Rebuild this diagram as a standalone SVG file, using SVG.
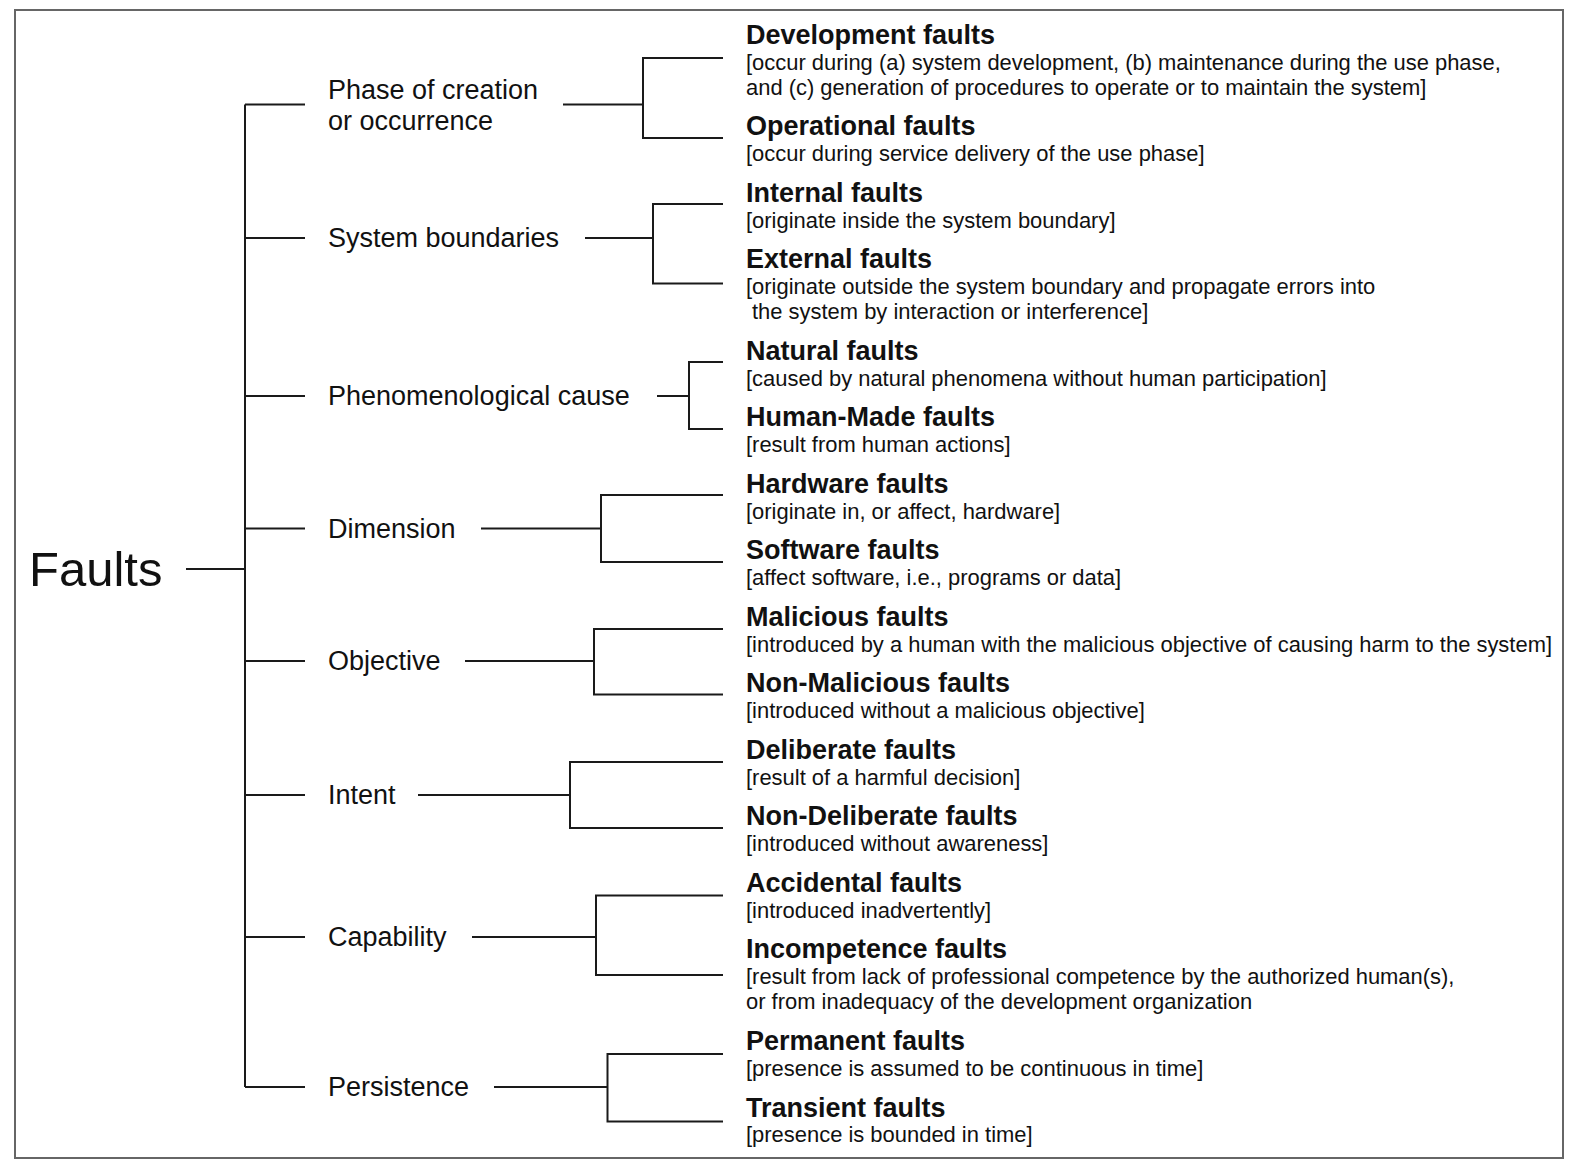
<svg xmlns="http://www.w3.org/2000/svg" width="1580" height="1173" viewBox="0 0 1580 1173">
  <style>
    .frame { fill: #ffffff; stroke: #666666; stroke-width: 2; }
    .link { fill: none; stroke: #1a1a1a; stroke-width: 2; }
    .root { font-family: "Liberation Sans", Arial, sans-serif; font-size: 49px; fill: #111111; }
    .cat { font-family: "Liberation Sans", Arial, sans-serif; font-size: 27px; fill: #111111; }
    .title { font-family: "Liberation Sans", Arial, sans-serif; font-size: 27px; font-weight: bold; fill: #111111; }
    .desc { font-family: "Liberation Sans", Arial, sans-serif; font-size: 21.95px; fill: #111111; }
  </style>

  <rect width="1580" height="1173" fill="#ffffff"/>
  <rect class="frame" x="15" y="10" width="1548" height="1148"/>

  <!-- tree connectors -->
  <g id="connectors">
    <!-- root to spine -->
    <path class="link" d="M186 569 H245"/>
    <path class="link" d="M245 104.5 V1087"/>
    <!-- spine to categories -->
    <path class="link" d="M245 104.5 H305 M245 238 H305 M245 396 H305 M245 528.5 H305 M245 661 H305 M245 795 H305 M245 937 H305 M245 1087 H305"/>
    <!-- Phase of creation or occurrence -->
    <path class="link" d="M563 104.5 H643 M723 58 H643 V138 H723"/>
    <!-- System boundaries -->
    <path class="link" d="M585 238 H653 M723 204 H653 V283.5 H723"/>
    <!-- Phenomenological cause -->
    <path class="link" d="M657 396 H689 M723 362 H689 V429 H723"/>
    <!-- Dimension -->
    <path class="link" d="M481 528.5 H601 M723 495 H601 V562 H723"/>
    <!-- Objective -->
    <path class="link" d="M465 661 H594 M723 629 H594 V694.5 H723"/>
    <!-- Intent -->
    <path class="link" d="M418 795 H570 M723 762 H570 V828 H723"/>
    <!-- Capability -->
    <path class="link" d="M472 937 H596 M723 895.5 H596 V975 H723"/>
    <!-- Persistence -->
    <path class="link" d="M494 1087 H607.5 M723 1054 H607.5 V1121.5 H723"/>
  </g>

  <!-- root -->
  <g id="faults">
    <text class="root" x="29" y="586">Faults</text>
  </g>

  <!-- categories -->
  <g id="cat-phase">
    <text class="cat" x="328" y="99">Phase of creation</text>
    <text class="cat" x="328" y="129.5">or occurrence</text>
  </g>
  <g id="cat-boundaries"><text class="cat" x="328" y="247">System boundaries</text></g>
  <g id="cat-cause"><text class="cat" x="328" y="405">Phenomenological cause</text></g>
  <g id="cat-dimension"><text class="cat" x="328" y="537.5">Dimension</text></g>
  <g id="cat-objective"><text class="cat" x="328" y="670">Objective</text></g>
  <g id="cat-intent"><text class="cat" x="328" y="804">Intent</text></g>
  <g id="cat-capability"><text class="cat" x="328" y="946">Capability</text></g>
  <g id="cat-persistence"><text class="cat" x="328" y="1096">Persistence</text></g>

  <!-- leaf classes -->
  <g id="leaf-development">
    <text class="title" x="746" y="44">Development faults</text>
    <text class="desc" x="746" y="70">[occur during (a) system development, (b) maintenance during the use phase,</text>
    <text class="desc" x="746" y="95">and (c) generation of procedures to operate or to maintain the system]</text>
  </g>
  <g id="leaf-operational">
    <text class="title" x="746" y="135">Operational faults</text>
    <text class="desc" x="746" y="161">[occur during service delivery of the use phase]</text>
  </g>
  <g id="leaf-internal">
    <text class="title" x="746" y="201.5">Internal faults</text>
    <text class="desc" x="746" y="227.5">[originate inside the system boundary]</text>
  </g>
  <g id="leaf-external">
    <text class="title" x="746" y="268">External faults</text>
    <text class="desc" x="746" y="294">[originate outside the system boundary and propagate errors into</text>
    <text class="desc" x="752" y="319">the system by interaction or interference]</text>
  </g>
  <g id="leaf-natural">
    <text class="title" x="746" y="359.5">Natural faults</text>
    <text class="desc" x="746" y="385.5">[caused by natural phenomena without human participation]</text>
  </g>
  <g id="leaf-human">
    <text class="title" x="746" y="426">Human-Made faults</text>
    <text class="desc" x="746" y="452">[result from human actions]</text>
  </g>
  <g id="leaf-hardware">
    <text class="title" x="746" y="492.5">Hardware faults</text>
    <text class="desc" x="746" y="518.5">[originate in, or affect, hardware]</text>
  </g>
  <g id="leaf-software">
    <text class="title" x="746" y="559">Software faults</text>
    <text class="desc" x="746" y="585">[affect software, i.e., programs or data]</text>
  </g>
  <g id="leaf-malicious">
    <text class="title" x="746" y="625.5">Malicious faults</text>
    <text class="desc" x="746" y="651.5">[introduced by a human with the malicious objective of causing harm to the system]</text>
  </g>
  <g id="leaf-nonmalicious">
    <text class="title" x="746" y="692">Non-Malicious faults</text>
    <text class="desc" x="746" y="718">[introduced without a malicious objective]</text>
  </g>
  <g id="leaf-deliberate">
    <text class="title" x="746" y="758.5">Deliberate faults</text>
    <text class="desc" x="746" y="784.5">[result of a harmful decision]</text>
  </g>
  <g id="leaf-nondeliberate">
    <text class="title" x="746" y="825">Non-Deliberate faults</text>
    <text class="desc" x="746" y="851">[introduced without awareness]</text>
  </g>
  <g id="leaf-accidental">
    <text class="title" x="746" y="891.5">Accidental faults</text>
    <text class="desc" x="746" y="917.5">[introduced inadvertently]</text>
  </g>
  <g id="leaf-incompetence">
    <text class="title" x="746" y="958">Incompetence faults</text>
    <text class="desc" x="746" y="984">[result from lack of professional competence by the authorized human(s),</text>
    <text class="desc" x="746" y="1009">or from inadequacy of the development organization</text>
  </g>
  <g id="leaf-permanent">
    <text class="title" x="746" y="1050">Permanent faults</text>
    <text class="desc" x="746" y="1076">[presence is assumed to be continuous in time]</text>
  </g>
  <g id="leaf-transient">
    <text class="title" x="746" y="1116.5">Transient faults</text>
    <text class="desc" x="746" y="1142">[presence is bounded in time]</text>
  </g>
</svg>
